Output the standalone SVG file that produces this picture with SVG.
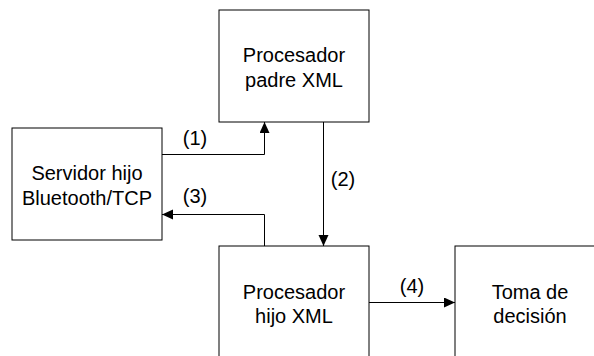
<svg xmlns="http://www.w3.org/2000/svg" width="594" height="356" viewBox="0 0 594 356">
  <style>
    .box { fill: #ffffff; stroke: #000000; stroke-width: 1; }
    .label { font-family: "Liberation Sans", Arial, sans-serif; font-size: 20px; fill: #000000; text-anchor: middle; }
    .edge { fill: none; stroke: #000000; stroke-width: 1; marker-end: url(#arrow); }
  </style>
  <defs>
    <marker id="arrow" markerUnits="userSpaceOnUse" markerWidth="12" markerHeight="11" refX="11" refY="5" orient="auto">
      <path d="M0,0 L11,5 L0,10 Z" fill="#000000"/>
    </marker>
  </defs>
  <rect width="594" height="356" fill="#ffffff"/>

  <g id="procesador-padre">
    <rect class="box" x="219" y="10" width="150" height="112"/>
    <text class="label" x="294" y="61.5">Procesador</text>
    <text class="label" x="294" y="86.5">padre XML</text>
  </g>

  <g id="servidor-hijo">
    <rect class="box" x="12" y="128" width="150" height="112"/>
    <text class="label" x="87" y="179.5">Servidor hijo</text>
    <text class="label" x="87" y="205">Bluetooth/TCP</text>
  </g>

  <g id="procesador-hijo">
    <rect class="box" x="219" y="246" width="150" height="112"/>
    <text class="label" x="294" y="298.5">Procesador</text>
    <text class="label" x="294" y="323">hijo XML</text>
  </g>

  <g id="toma-decision">
    <rect class="box" x="455" y="246" width="150" height="112"/>
    <text class="label" x="530" y="298.5">Toma de</text>
    <text class="label" x="530" y="323">decisión</text>
  </g>

  <g id="connectors">
    <path class="edge" d="M162,154.5 H264.5 V122"/>
    <path class="edge" d="M323.5,122 V246"/>
    <path class="edge" d="M264.5,246 V214.5 H162"/>
    <path class="edge" d="M369,302.5 H455"/>
    <text class="label" x="195" y="144.5">(1)</text>
    <text class="label" x="343" y="186">(2)</text>
    <text class="label" x="195" y="203">(3)</text>
    <text class="label" x="412" y="293">(4)</text>
  </g>
</svg>
